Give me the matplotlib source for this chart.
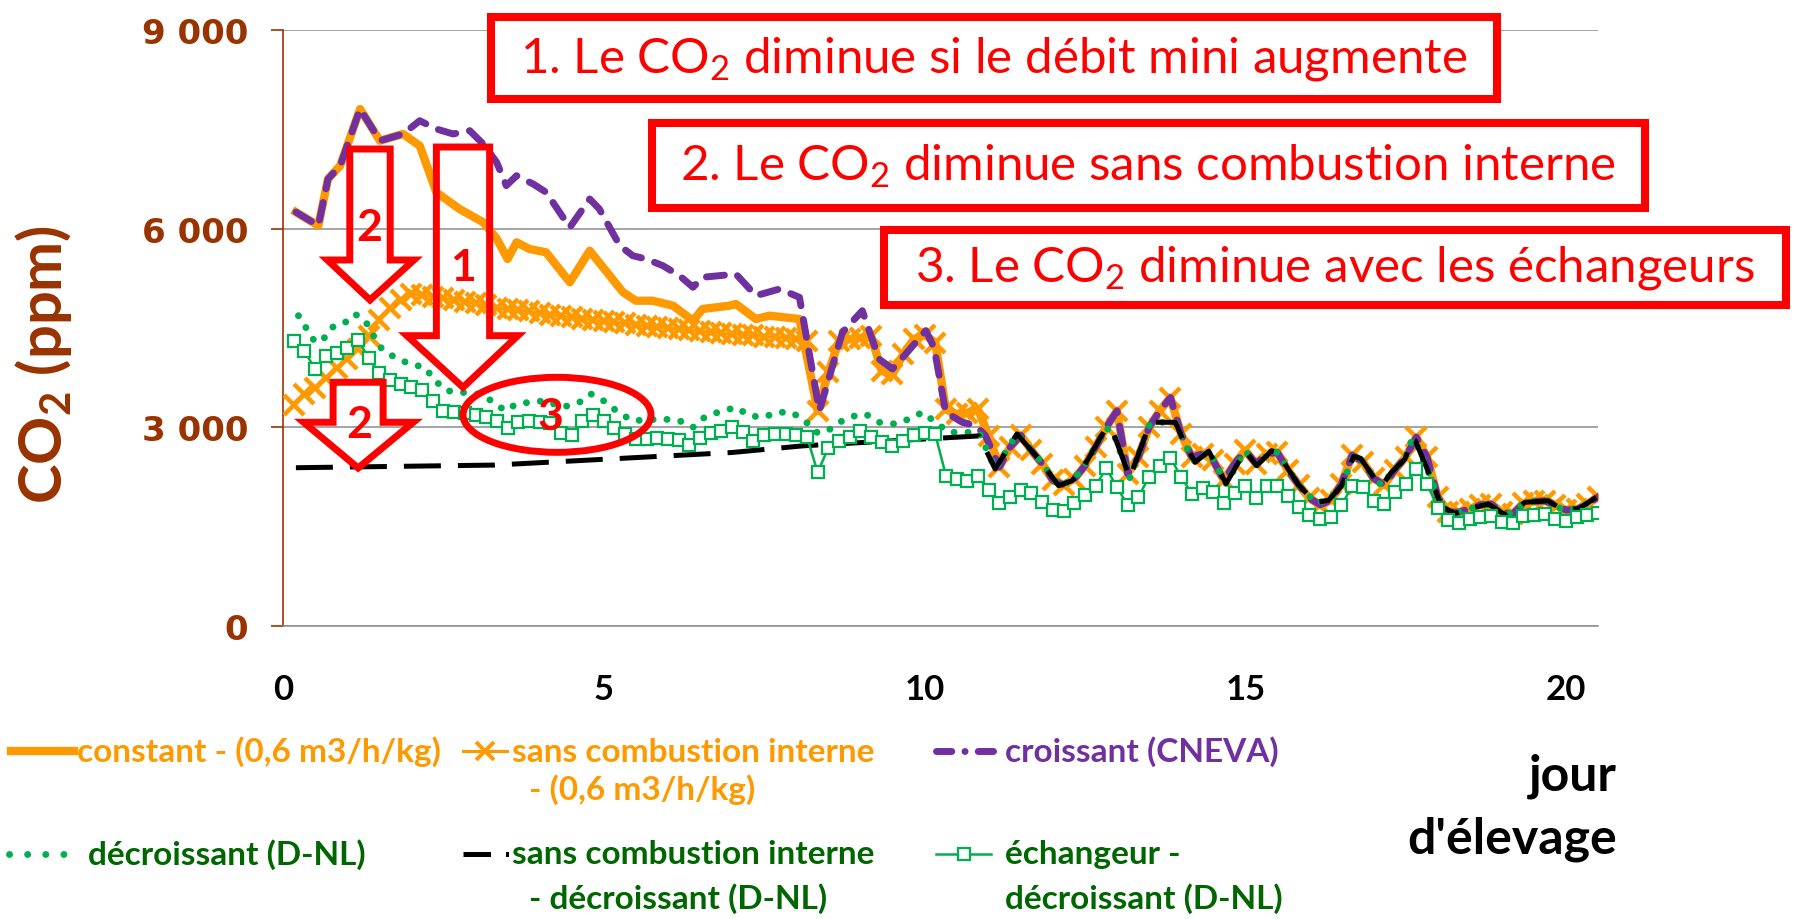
import numpy as np
import matplotlib
matplotlib.use("Agg")
import matplotlib.pyplot as plt
from matplotlib.lines import Line2D
from matplotlib.patches import Polygon, Ellipse, Rectangle
from matplotlib.ticker import FuncFormatter

plt.rcParams["font.family"] = ["Lato", "DejaVu Sans"]
plt.rcParams["mathtext.fontset"] = "custom"
plt.rcParams["mathtext.rm"] = "Lato"
plt.rcParams["mathtext.it"] = "Lato:italic"
plt.rcParams["mathtext.bf"] = "Lato:bold"

ORANGE = "#FF9900"
PURPLE = "#7030A0"
GREEN = "#00B050"
DKGREEN = "#006600"
BROWN = "#993300"
RED = "#FF0000"
GRID = "#8C8C8C"

# pas de 4 h (6 mesures par jour) pour les séries à marqueurs
day_grid = np.arange(1, 124) / 6

# sans combustion interne - (0,6 m3/h/kg)
sans_comb = [
    3330, 3500, 3600, 3750, 3900, 4030, 4180, 4380, 4620, 4800, 4930, 5010,
    5000, 4970, 4950, 4920, 4900, 4870, 4850, 4800, 4790, 4770, 4750, 4720,
    4700, 4680, 4660, 4640, 4620, 4600, 4590, 4570, 4550, 4530, 4520, 4500,
    4480, 4470, 4450, 4440, 4420, 4410, 4400, 4390, 4370, 4360, 4350, 4330,
    4300, 3250, 3830, 4300, 4330, 4350, 4380, 3850, 3800, 4100, 4330, 4400,
    4280, 3270, 3200, 3220, 3270, 2870, 2400, 2700, 2880, 2650, 2450, 2200,
    2130, 2220, 2420, 2700, 3000, 3250, 2300, 2550, 3000, 3250, 3450, 2900,
    2550, 2600, 2500, 2200, 2450, 2650, 2450, 2600, 2620, 2350, 2130, 1930,
    1830, 1900, 2150, 2580, 2480, 2230, 2130, 2360, 2550, 2850, 2550, 1950,
    1720, 1720, 1770, 1830, 1840, 1720, 1690, 1850, 1880, 1890, 1830, 1750,
    1760, 1840, 1950]

# échangeur - décroissant (D-NL)
echangeur = [
    4300, 4150, 3880, 4080, 4120, 4200, 4320, 4050, 3820, 3710, 3660, 3610,
    3560, 3390, 3250, 3230, 3210, 3190, 3160, 3090, 2990, 3076, 3090, 3076,
    3060, 2920, 2880, 3090, 3190, 3100, 2990, 2900, 2830, 2830, 2840, 2830,
    2810, 2730, 2840, 2920, 2950, 3000, 2925, 2800, 2890, 2900, 2900, 2880,
    2860, 2320, 2690, 2800, 2850, 2950, 2850, 2780, 2720, 2800, 2880, 2920,
    2900, 2270, 2220, 2190, 2270, 2050, 1860, 1950, 2060, 2010, 1870, 1750,
    1730, 1850, 1980, 2120, 2380, 2100, 1820, 1950, 2250, 2420, 2540, 2250,
    2000, 2090, 2030, 1850, 2010, 2120, 1940, 2110, 2120, 1960, 1790, 1680,
    1620, 1650, 1820, 2120, 2100, 1890, 1840, 2030, 2150, 2370, 2150, 1780,
    1600, 1560, 1620, 1650, 1660, 1570, 1560, 1660, 1680, 1690, 1620, 1590,
    1640, 1680, 1700]

# constant - (0,6 m3/h/kg), début (ensuite confondu avec sans combustion)
const_days = [0.2, 0.55, 0.7, 0.89, 1.2, 1.51, 1.87, 2.13, 2.39, 2.75, 3.12,
              3.33, 3.5, 3.64, 3.84, 4.1, 4.47, 4.78, 5.3, 5.5, 5.76, 6.08,
              6.39, 6.54, 6.96, 7.06, 7.37, 7.58, 8.05]
const_vals = [6250, 6045, 6750, 6950, 7807, 7328, 7430, 7252, 6549, 6297, 6096,
              5850, 5542, 5794, 5693, 5643, 5190, 5667, 5039, 4912, 4912, 4837,
              4610, 4787, 4837, 4862, 4636, 4686, 4636]

# croissant (CNEVA), début
cneva_days = [0.2, 0.55, 0.7, 0.89, 1.2, 1.51, 1.87, 2.13, 2.39, 2.65, 2.91,
              3.12, 3.33, 3.48, 3.64, 3.9, 4.1, 4.47, 4.78, 4.93, 5.25, 5.45,
              5.66, 5.92, 6.18, 6.39, 6.54, 6.8, 7.06, 7.37, 7.74, 8.05, 8.36,
              8.72, 9.03, 9.29, 9.5, 9.7, 10.02, 10.15, 10.33, 10.59, 10.8, 10.95]
cneva_vals = [6250, 6045, 6750, 6950, 7807, 7328, 7430, 7630, 7505, 7430, 7480,
              7278, 7002, 6650, 6800, 6674, 6550, 6020, 6448, 6297, 5743, 5592,
              5542, 5441, 5290, 5115, 5266, 5290, 5315, 4988, 5089, 4963, 3250,
              4435, 4761, 4032, 3881, 4100, 4460, 4200, 3227, 3076, 3026, 2874]

# décroissant (D-NL), début
dnl_days = [0.24, 0.37, 0.5, 0.63, 0.76, 0.94, 1.12, 1.28, 1.41, 1.54, 1.74,
            1.98, 2.21, 2.37, 2.55, 2.78, 3.04, 3.25, 3.46, 3.64, 3.84, 4.1,
            4.35, 4.62, 4.8, 5.04, 5.22, 5.45, 5.92, 6.18, 6.39, 6.57, 6.78,
            7.06, 7.27, 7.48, 7.71, 7.92, 8.12, 8.31, 8.46, 8.67, 8.88, 9.08,
            9.29, 9.55, 9.76, 9.97, 10.17, 10.38, 10.85]
dnl_vals = [4686, 4485, 4284, 4334, 4510, 4560, 4711, 4610, 4384, 4183, 4057,
            3956, 3906, 3704, 3553, 3529, 3503, 3402, 3251, 3352, 3378, 3402,
            3300, 3378, 3503, 3378, 3227, 3100, 3126, 3100, 3000, 3151, 3227,
            3302, 3176, 3151, 3227, 3227, 3115, 2925, 2925, 3076, 3166, 3201,
            3076, 3050, 3126, 3227, 3076, 2925, 2925]

# sans combustion interne - décroissant (D-NL), début
nocomb_dnl_days = [0.2, 3.3, 7.0, 8.1, 10.85]
nocomb_dnl_vals = [2390, 2430, 2620, 2720, 2870]

# fin commune des séries D-NL (à partir du jour 11)
tail_days = [11.1, 11.44, 11.78, 12.09, 12.3, 12.46, 12.82, 12.92, 13.2, 13.5,
             13.6, 13.91, 14.07, 14.22, 14.43, 14.7, 15.0, 15.18, 15.41, 15.5,
             15.83, 16.1, 16.3, 16.5, 16.69, 16.8, 17.02, 17.13, 17.28, 17.49,
             17.6, 17.65, 17.9, 18.06, 18.27, 18.58, 18.79, 19.07, 19.36, 19.72,
             19.93, 20.19, 20.47]
tail_vals = [2371, 2900, 2522, 2119, 2194, 2371, 2975, 2975, 2240, 3025,
             3076, 3076, 2723, 2472, 2640, 2150, 2647, 2420, 2647, 2620,
             2130, 1860, 1900, 2119, 2560, 2530, 2220, 2119, 2321, 2522,
             2824, 2798, 2220, 1800, 1700, 1792, 1842, 1666, 1868, 1890,
             1767, 1767, 1943]

y_ticks = [0, 3000, 6000, 9000]
x_ticks = [0, 5, 10, 15, 20]

fig = plt.figure(figsize=(17.95, 9.2), dpi=100)
ax = fig.add_axes([0.1577, 0.3185, 0.7326, 0.6478])

# séries
ax.plot(const_days + list(day_grid[49:]), const_vals + sans_comb[49:],
        color=ORANGE, lw=6, solid_joinstyle="round", zorder=2)
ax.plot(day_grid, sans_comb, color=ORANGE, lw=2.2, marker="x", ms=15, mew=3.2,
        zorder=3)
ax.plot(cneva_days + list(day_grid[66:]), cneva_vals + sans_comb[66:],
        color=PURPLE, lw=5, dashes=(2.6, 2.0), dash_capstyle="round", zorder=4)
ax.plot(dnl_days + tail_days, dnl_vals + tail_vals, color=GREEN, lw=5,
        dashes=(0.01, 2.0), dash_capstyle="round", zorder=5)
ax.plot(nocomb_dnl_days + tail_days, nocomb_dnl_vals + tail_vals, color="black",
        lw=3.6, dashes=(7.4, 3.4), zorder=6)
ax.plot(day_grid, echangeur, color=GREEN, lw=1.8, marker="s", ms=8.5, mfc="white",
        mec=GREEN, mew=1.6, zorder=7)

ax.set_xlim(0, 20.5)
ax.set_ylim(0, 9000)
ax.set_xticks(x_ticks)
ax.set_yticks(y_ticks)
ax.yaxis.set_major_formatter(FuncFormatter(lambda v, p: f"{int(v):,}".replace(",", " ")))
ax.grid(axis="y", color=GRID, lw=1.1, zorder=0)
ax.set_axisbelow(True)
for s in ["top", "right"]:
    ax.spines[s].set_visible(False)
ax.spines["left"].set_color(BROWN)
ax.spines["left"].set_linewidth(1.2)
ax.spines["bottom"].set_color(GRID)
ax.spines["bottom"].set_linewidth(1.1)
ax.tick_params(axis="y", colors=BROWN, length=9, width=1.2, pad=16)
ax.tick_params(axis="x", length=0, pad=34, colors="black")
for lab in ax.get_yticklabels():
    lab.set_fontfamily("DejaVu Sans")
    lab.set_fontweight("bold")
    lab.set_fontsize(24.5)
for lab in ax.get_xticklabels():
    lab.set_fontweight("bold")
    lab.set_fontsize(25)

fig.text(0.0245, 0.604, r"CO$_\mathbf{2}$ (ppm)", rotation=90, color=BROWN,
         fontsize=43, fontweight="bold", ha="center", va="center")

# flèches et ellipse d'annotation
def block_arrow(x0, x1, top, base, hx0, hx1, tip):
    xm = (x0 + x1) / 2
    pts = [(x0, top), (x1, top), (x1, base), (hx1, base), (xm, tip),
           (hx0, base), (x0, base)]
    ax.add_patch(Polygon(pts, closed=True, fill=False, edgecolor=RED, lw=5,
                         joinstyle="miter", clip_on=False, zorder=10))

block_arrow(1.04, 1.67, 7203, 5527, 0.69, 2.04, 4923)
block_arrow(2.39, 3.22, 7233, 4384, 1.93, 3.66, 3604)
block_arrow(0.78, 1.56, 3680, 3076, 0.32, 2.03, 2386)
ax.add_patch(Ellipse((4.27, 3189), 2.93, 1133, fill=False, edgecolor=RED, lw=5,
                     zorder=10, clip_on=False))
for tx, ty, t in [(1.35, 6025, "2"), (2.8, 5421, "1"), (1.18, 3050, "2"),
                  (4.16, 3176, "3")]:
    ax.text(tx, ty, t, color=RED, fontsize=32, fontweight="bold",
            ha="center", va="center", zorder=11)

# encadrés
W, H = 1795, 920
boxes = [
    ((491, 18, 1497, 100), "1. Le CO$_2$ diminue si le débit mini augmente"),
    ((652, 124, 1645, 209), "2. Le CO$_2$ diminue sans combustion interne"),
    ((884, 231, 1786, 306), "3. Le CO$_2$ diminue avec les échangeurs"),
]
for (x0, y0, x1, y1), txt in boxes:
    fig.add_artist(Rectangle((x0 / W, 1 - y1 / H), (x1 - x0) / W, (y1 - y0) / H,
                             transform=fig.transFigure, facecolor="white",
                             edgecolor=RED, lw=5.8, zorder=20))
    fig.text((x0 + x1) / 2 / W, 1 - (y0 + y1) / 2 / H, txt, color=RED,
             fontsize=35.5, ha="center", va="center", zorder=21)

# légende
def leg_line(x0, x1, y, **kw):
    fig.add_artist(Line2D([x0 / W, (x0 + x1) / 2 / W, x1 / W], [1 - y / H] * 3,
                          transform=fig.transFigure, **kw))

leg_line(11, 74, 752, color=ORANGE, lw=6)
leg_line(463, 507, 752, color=ORANGE, lw=2.2, marker="x", ms=13, mew=2.8,
         markevery=[1])
leg_line(936, 993, 752, color=PURPLE, lw=5, dashes=(2.2, 1.9, 0.01, 1.9),
         dash_capstyle="round")
leg_line(9, 69, 855, color=GREEN, lw=5, dashes=(0.01, 2.6), dash_capstyle="round")
leg_line(463, 509, 855, color="black", lw=3.6, dashes=(5.5, 3.0, 0.6, 3.0))
leg_line(936, 991, 855, color=GREEN, lw=1.8, marker="s", ms=8, mfc="white",
         mec=GREEN, mew=1.6, markevery=[1])

leg_font = dict(fontsize=24, fontweight="bold", va="center", ha="left")
fig.text(77 / W, 1 - 752 / H, "constant - (0,6 m3/h/kg)", color=ORANGE, **leg_font)
fig.text(512 / W, 1 - 752 / H, "sans combustion interne", color=ORANGE, **leg_font)
fig.text(529 / W, 1 - 790 / H, "- (0,6 m3/h/kg)", color=ORANGE, **leg_font)
fig.text(1005 / W, 1 - 752 / H, "croissant (CNEVA)", color=PURPLE, **leg_font)
fig.text(88 / W, 1 - 855 / H, "décroissant (D-NL)", color=DKGREEN, **leg_font)
fig.text(512 / W, 1 - 855 / H, "sans combustion interne", color=DKGREEN, **leg_font)
fig.text(529 / W, 1 - 899 / H, "- décroissant (D-NL)", color=DKGREEN, **leg_font)
fig.text(1005 / W, 1 - 855 / H, "échangeur -", color=DKGREEN, **leg_font)
fig.text(1005 / W, 1 - 899 / H, "décroissant (D-NL)", color=DKGREEN, **leg_font)

fig.text(1617 / W, 1 - 776 / H, "jour", fontsize=36, fontweight="bold",
         ha="right", va="center")
fig.text(1617 / W, 1 - 839 / H, "d'élevage", fontsize=36, fontweight="bold",
         ha="right", va="center")

fig.savefig("out.png", dpi=100)
